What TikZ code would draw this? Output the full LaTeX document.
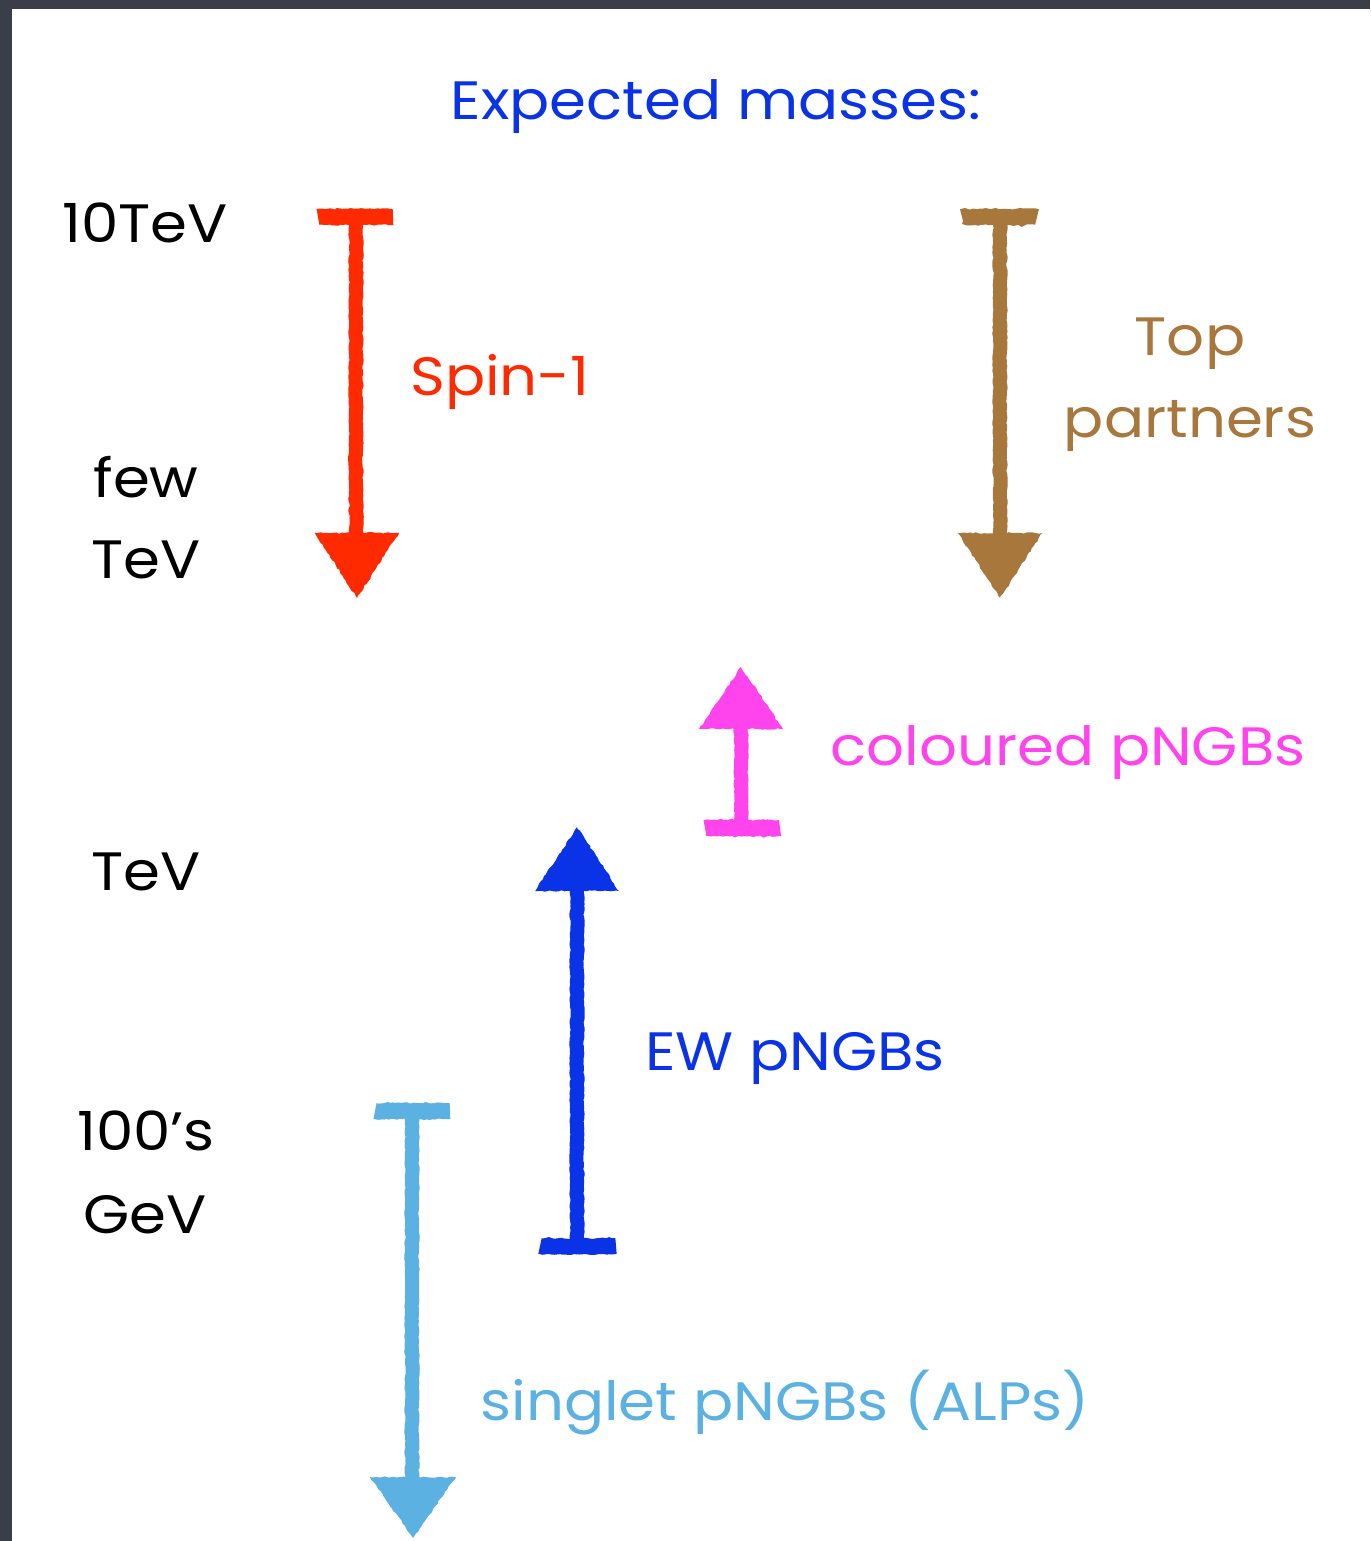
\documentclass[tikz,border=0pt]{standalone}
\usepackage{fontspec}
\setmainfont[FakeStretch=1.1]{Poppins}
\usetikzlibrary{decorations.pathmorphing}
\definecolor{frame}{HTML}{3A3E48}
\definecolor{cred}{HTML}{FF2A00}
\definecolor{cbrown}{HTML}{A8773C}
\definecolor{cmag}{HTML}{FF44EE}
\definecolor{cblue}{HTML}{0A32E6}
\definecolor{clight}{HTML}{5CB1E3}
\tikzset{
  chalk/.style={decorate,decoration={random steps,segment length=3pt,amplitude=0.8pt}},
  shaft/.style={chalk,line width=14pt,line cap=round,line join=round},
  barline/.style={chalk,line width=16pt,line cap=butt},
  head/.style={chalk,line join=round},
  lbl/.style={anchor=base,inner sep=0pt,font=\fontsize{54}{58}\selectfont},
}
\begin{document}
\begin{tikzpicture}[x=1pt,y=-1pt]
\fill[frame] (0,0) rectangle (1370,1541);
\fill[white] (12,9) rectangle (1370,1541);
\useasboundingbox (0,0) rectangle (1370,1541);

% title
\node[lbl,text=cblue] (title) at (716,120) {Expected masses:};

% scale labels
\node[lbl] (s10) at (145,242) {10TeV};
\node[lbl] (sfew) at (146,497) {few};
\node[lbl] (sfewtev) at (146,578) {TeV};
\node[lbl] (stev) at (146,890) {TeV};
\node[lbl] (s100) at (146,1150) {100's};
\node[lbl] (sgev) at (145,1233) {GeV};

% red: Spin-1
\coordinate (rT) at (356,217);
\coordinate (rB) at (356,540);
\draw[barline,cred] (318,217) -- (393,217);
\draw[shaft,cred] (rT) -- (rB);
\fill[head,cred] (315,533) -- (399,533) -- (357,598) -- cycle;
\node[lbl,text=cred] (spin) at (500,395) {Spin-1};

% brown: Top partners
\coordinate (bT) at (1000,217);
\coordinate (bB) at (1000,540);
\draw[barline,cbrown] (962,217) -- (1037,217);
\draw[shaft,cbrown] (bT) -- (bB);
\fill[head,cbrown] (958,533) -- (1042,533) -- (1000,598) -- cycle;
\node[lbl,text=cbrown] (top) at (1190,355) {Top};
\node[lbl,text=cbrown] (partners) at (1190,437) {partners};

% magenta: coloured pNGBs
\coordinate (mB) at (741,828);
\coordinate (mT) at (741,725);
\draw[barline,cmag] (705,828) -- (780,828);
\draw[shaft,cmag] (mB) -- (mT);
\fill[head,cmag] (699,729) -- (783,729) -- (741,667) -- cycle;
\node[lbl,text=cmag] (col) at (1068,765) {coloured pNGBs};

% blue: EW pNGBs
\coordinate (eB) at (577,1246);
\coordinate (eT) at (577,888);
\draw[barline,cblue] (540,1246) -- (616,1246);
\draw[shaft,cblue] (eB) -- (eT);
\fill[head,cblue] (535,891) -- (619,891) -- (577,827) -- cycle;
\node[lbl,text=cblue] (ew) at (795,1070) {EW pNGBs};

% light blue: singlet pNGBs
\coordinate (lT) at (412,1111);
\coordinate (lB) at (412,1482);
\draw[barline,clight] (375,1111) -- (450,1111);
\draw[shaft,clight] (lT) -- (lB);
\fill[head,clight] (370,1477) -- (456,1477) -- (413,1538) -- cycle;
\node[lbl,text=clight] (alp) at (785,1420) {singlet pNGBs (ALPs)};
\end{tikzpicture}
\end{document}
